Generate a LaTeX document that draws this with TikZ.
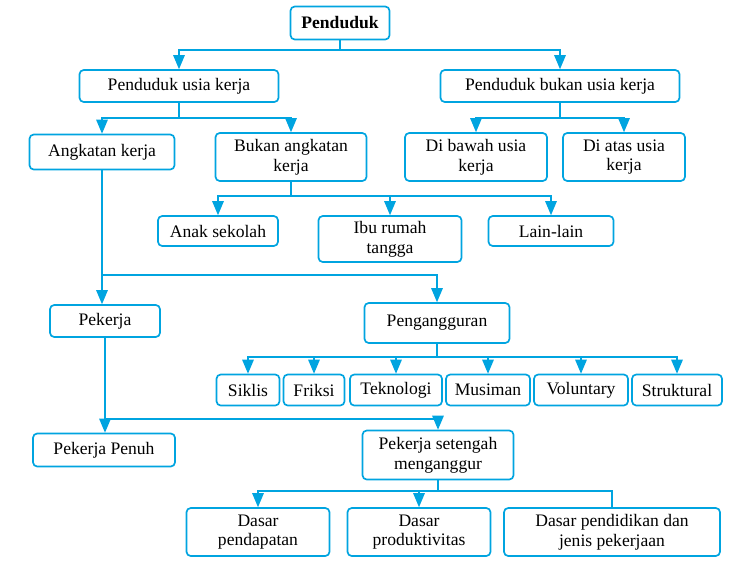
\documentclass[tikz,border=0pt]{standalone}
\usepackage{fontspec}
\setmainfont{Liberation Serif}
\usetikzlibrary{arrows, positioning, calc}
\definecolor{biru}{RGB}{0,164,224}
\tikzset{
  box/.style={draw=biru, line width=1.2pt, rounded corners=3pt, fill=white, align=center,
    inner sep=1pt, font=\fontsize{12.5}{14}\selectfont},
  bx/.style 2 args={box, minimum width=#1*0.025cm, minimum height=#2*0.025cm},
  line/.style={draw=biru, line width=1.3pt},
  arr/.style={line, -triangle 45},
}
\begin{document}
\begin{tikzpicture}[x=0.025cm, y=-0.025cm]
        \useasboundingbox (0,0) rectangle (754,567);
        % boxes
        \node[bx={99}{33}, font=\fontsize{12.5}{14}\selectfont\bfseries] (pend) at (340,23) {Penduduk};
        \node[bx={199}{32}] (puk) at (179,86) {Penduduk usia kerja};
        \node[bx={239}{32}] (pbuk) at (560,86) {Penduduk bukan usia kerja};
        \node[bx={145}{35}] (ak) at (102,152) {Angkatan kerja};
        \node[bx={151}{48}] (bak) at (291,157) {Bukan angkatan\\kerja};
        \node[bx={142}{48}] (dbu) at (476,157) {Di bawah usia\\kerja};
        \node[bx={122}{48}] (dau) at (624,157) {Di atas usia\\kerja};
        \node[bx={120}{30}] (anak) at (218,231) {Anak sekolah};
        \node[bx={143}{46}] (ibu) at (390,239) {Ibu rumah\\tangga};
        \node[bx={125}{30}] (lain) at (551,231) {Lain-lain};
        \node[bx={110}{32}] (pek) at (105,321) {Pekerja};
        \node[bx={145}{40}] (peng) at (437,323) {Pengangguran};
        \node[bx={63}{31}] (sik) at (248,390) {Siklis};
        \node[bx={61}{31}] (fri) at (314,390) {Friksi};
        \node[bx={92}{31}] (tek) at (396,390) {Teknologi};
        \node[bx={84}{31}] (mus) at (488,390) {Musiman};
        \node[bx={94}{31}] (vol) at (581,390) {Voluntary};
        \node[bx={90}{31}] (str) at (677,390) {Struktural};
        \node[bx={142}{33}] (pp) at (104,450) {Pekerja Penuh};
        \node[bx={151}{49}] (psm) at (438,455) {Pekerja setengah\\menganggur};
        \node[bx={143}{48}] (dpd) at (258,532) {Dasar\\pendapatan};
        \node[bx={143}{48}] (dpr) at (419,532) {Dasar\\produktivitas};
        \node[bx={216}{48}] (dpj) at (612,532) {Dasar pendidikan dan\\jenis pekerjaan};
        % connectors
        \draw[line] (pend.south) -- ++(0,10) coordinate (j1);
        \draw[arr] (j1) -| (puk.north);
        \draw[arr] (j1) -| (pbuk.north);
        \draw[line] (puk.south) -- ++(0,15) coordinate (j2);
        \draw[arr] (j2) -| (ak.north);
        \draw[arr] (j2) -| (bak.north);
        \draw[line] (pbuk.south) -- ++(0,15) coordinate (j3);
        \draw[arr] (j3) -| (dbu.north);
        \draw[arr] (j3) -| (dau.north);
        \draw[line] (bak.south) -- ++(0,14) coordinate (j4);
        \draw[arr] (j4) -| (anak.north);
        \draw[arr] (j4) -| (ibu.north);
        \draw[arr] (j4) -| (lain.north);
        \draw[line] (ak.south) -- ++(0,105) coordinate (j5);
        \draw[arr] (ak.south) -- (ak.south |- pek.north);
        \draw[arr] (j5) -| (peng.north);
        \draw[line] (peng.south) -- ++(0,13) coordinate (j6);
        \foreach \n in {sik, fri, tek, mus, vol, str}
          \draw[arr] (j6) -| (\n.north);
        \draw[line] (pek.south) -- ++(0,81) coordinate (j7);
        \draw[arr] (pek.south) -- (pek.south |- pp.north);
        \draw[arr] (j7) -| (psm.north);
        \draw[line] (psm.south) -- ++(0,11) coordinate (j8);
        \draw[arr] (j8) -| (dpd.north);
        \draw[arr] (j8) -| (dpr.north);
        \draw[line] (j8) -| (dpj.north);
\end{tikzpicture}
\end{document}
